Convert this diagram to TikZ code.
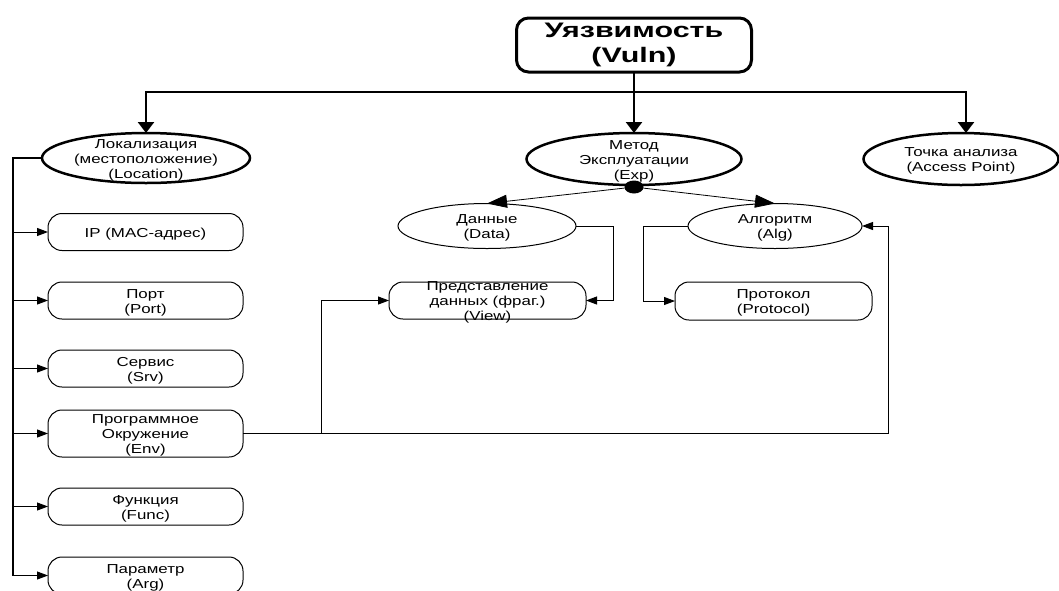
\documentclass[tikz,border=0pt]{standalone}
\usepackage{fontspec}
\setmainfont{Liberation Sans}
\newfontfamily\nfnt[FakeStretch=1.3]{Liberation Sans}
\newfontfamily\vfnt[FakeStretch=1.45]{Liberation Sans}
\usetikzlibrary{shapes.geometric,arrows.meta,calc}
\begin{document}
\begin{tikzpicture}[x=1pt,y=-1pt,
  every node/.style={inner sep=0pt,outer sep=0pt},
  txt/.style={font=\nfnt\fontsize{13}{15}\selectfont,align=center,yshift=-2pt},
  topell/.style={ellipse,draw,line width=2.5pt},
  subell/.style={ellipse,draw,line width=1pt},
  box/.style={rectangle,rounded corners=14pt,draw,line width=1pt,minimum width=195pt,minimum height=37pt},
  lbl/.style={label={[txt]center:#1}},
  thickc/.style={line width=2.5pt},
  bigtip/.style={thickc,-{Triangle[length=11pt,width=16pt]}},
  thinarr/.style={line width=1pt,-{Triangle[length=11pt,width=8pt]}},
  dtip/.style={line width=0.8pt,-{Triangle[length=20pt,width=13pt]}},
]
\useasboundingbox (0,0) rectangle (1059,590);

% nodes
\node[draw,rounded corners=12pt,line width=3pt,minimum width=235pt,minimum height=54pt,
      font=\vfnt\bfseries\fontsize{21}{25}\selectfont,align=center] (vuln) at (634,45) {Уязвимость\\(Vuln)};

\node[topell,minimum width=208pt,minimum height=50pt,lbl={Локализация\\(местоположение)\\(Location)}] (loc) at (146,158) {};
\node[topell,minimum width=215pt,minimum height=52pt,lbl={Метод\\Эксплуатации\\(Exp)}] (exp) at (634,159) {};
\node[topell,minimum width=195pt,minimum height=52pt,lbl={Точка анализа\\(Access Point)}] (ap) at (961,159) {};

\node[subell,minimum width=178pt,minimum height=45pt,lbl={Данные\\(Data)}] (data) at (487,226) {};
\node[subell,minimum width=174pt,minimum height=45pt,lbl={Алгоритм\\(Alg)}] (alg) at (775,226) {};

\node[box,minimum width=197pt,lbl={Представление\\данных (фраг.)\\(View)}] (view) at (487.5,300.5) {};
\node[box,minimum width=197pt,minimum height=38pt,lbl={Протокол\\(Protocol)}] (proto) at (773.5,301) {};

\node[box,lbl={IP (MAC-адрес)}] (ip) at (145.5,232) {};
\node[box,lbl={Порт\\(Port)}] (port) at (145.5,300.5) {};
\node[box,lbl={Сервис\\(Srv)}] (srv) at (145.5,368.5) {};
\node[box,minimum height=47pt,lbl={Программное\\Окружение\\(Env)}] (env) at (145.5,433.5) {};
\node[box,lbl={Функция\\(Func)}] (func) at (145.5,506.5) {};
\node[box,lbl={Параметр\\(Arg)}] (arg) at (145.5,575.5) {};

\node[fill,ellipse,minimum width=19pt,minimum height=13pt] (dot) at (634,187) {};

% top-level connectors
\coordinate (vb) at (634,92);
\coordinate (bl) at (146,92);
\coordinate (br) at (966,92);
\draw[thickc] (vuln.south) -- (vb);
\draw[thickc,line cap=rect] (bl) -- (br);
\draw[bigtip] (bl) -- (loc.north);
\draw[bigtip] (vb) -- (exp.north);
\draw[bigtip] (br) -- (ap.north -| br);

% exploitation method branches
\draw[dtip] (dot) -- (data.north);
\draw[dtip] (dot) -- (alg.north);

% location branches
\coordinate (lx) at (13,0);
\draw[line width=1.6pt] (loc.west) -| (arg.west -| lx);
\foreach \b in {ip,port,srv,env,func,arg}
  \draw[thinarr] (\b.west -| lx) -- (\b.west);

% sub connectors
\draw[thinarr] (data.east) -- ++(37,0) |- (view.east);
\draw[thinarr] (alg.west) -- ++(-45,0) |- (proto.west);
\coordinate (ej) at (321,433.5);
\coordinate (er) at (888,433.5);
\draw[thinarr] (env.east) -- (ej) |- (view.west);
\draw[thinarr] (ej) -- (er) |- (alg.east);
\end{tikzpicture}
\end{document}
